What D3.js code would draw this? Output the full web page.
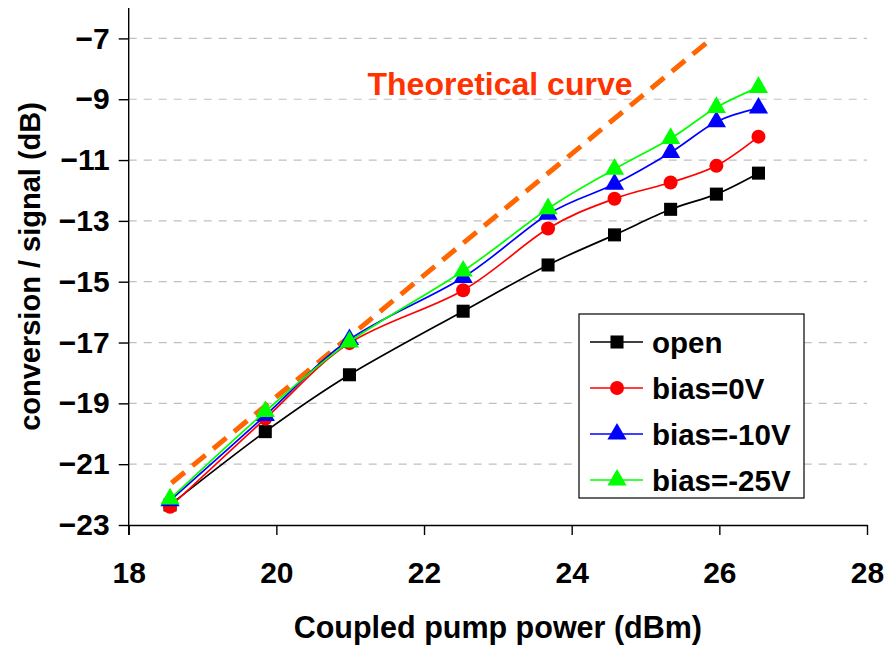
<!DOCTYPE html>
<html>
<head>
<meta charset="utf-8">
<script src="https://cdn.jsdelivr.net/npm/d3@7"></script>
<style>
  body { margin: 0; background: #fff; }
  text { font-family: Arial, "Liberation Sans", sans-serif; font-weight: bold; }
</style>
</head>
<body>
<div class="container"></div>
<script>
// pump power (dBm) for every measured point
var pump = [18.56, 19.85, 20.99, 22.53, 23.68, 24.58, 25.34, 25.96, 26.53];
var openV = [-22.34, -19.93, -18.06, -15.97, -14.45, -13.46, -12.62, -12.12, -11.43];
var bias0 = [-22.40, -19.50, -17.02, -15.28, -13.25, -12.27, -11.74, -11.19, -10.23];
var bias10 = [-22.20, -19.40, -16.90, -14.86, -12.78, -11.79, -10.75, -9.74, -9.29];
var bias25 = [-22.14, -19.27, -16.98, -14.65, -12.60, -11.30, -10.29, -9.27, -8.61];
var theoryX = [18.58, 25.90];
var theoryY = [-21.62, -7.00];
var xTicks = [18, 20, 22, 24, 26, 28];
var yTicks = [-23, -21, -19, -17, -15, -13, -11, -9, -7];

var series = [
  {name: 'open', vals: openV, color: '#000000', mark: 'square'},
  {name: 'bias=0V', vals: bias0, color: '#ff0000', mark: 'circle'},
  {name: 'bias=-10V', vals: bias10, color: '#0000ff', mark: 'triangle'},
  {name: 'bias=-25V', vals: bias25, color: '#00ff00', mark: 'triangle'}
];

var chart = function() {
  var W = 886, H = 645;
  var pLeft = 128.7, pRight = 867, pTop = 8, pBottom = 525;

  var svg = d3.select('.container').append('svg')
    .attr('width', W)
    .attr('height', H);

  var x = d3.scaleLinear().domain([18, 28]).range([pLeft, pRight]);
  var y = d3.scaleLinear().domain([-23, -6]).range([pBottom, pTop]);

  // dashed grid
  svg.append('g').selectAll('line')
    .data(yTicks.filter(function(d){ return d > -23; }))
    .enter().append('line')
    .attr('x1', pLeft).attr('x2', pRight)
    .attr('y1', function(d){ return y(d); })
    .attr('y2', function(d){ return y(d); })
    .attr('stroke', '#c0c0c0')
    .attr('stroke-width', 1.2)
    .attr('stroke-dasharray', '8,7');

  // axes
  var xAxis = svg.append('g')
    .attr('transform', 'translate(0,' + pBottom + ')')
    .call(d3.axisBottom(x).tickValues(xTicks).tickSize(10).tickSizeOuter(0).tickPadding(27));
  var yAxis = svg.append('g')
    .attr('transform', 'translate(' + pLeft + ',0)')
    .call(d3.axisLeft(y).tickValues(yTicks).tickSize(10).tickSizeOuter(0).tickPadding(9));
  [xAxis, yAxis].forEach(function(a){
    a.select('.domain').attr('stroke', '#000').attr('stroke-width', 1.4);
    a.selectAll('.tick line').attr('stroke', '#000').attr('stroke-width', 1.4);
    a.selectAll('.tick text').attr('fill', '#000').style('font-size', '30px')
      .style('font-family', 'Arial, "Liberation Sans", sans-serif').style('font-weight', 'bold');
  });
  xAxis.selectAll('.tick text').attr('dy', '0.71em');
  // y axis runs to the top of the plot
  yAxis.select('.domain').attr('d', 'M0,' + pTop + 'V' + (pBottom + 10));

  // theoretical curve
  svg.append('path')
    .datum(d3.zip(theoryX, theoryY))
    .attr('d', d3.line().x(function(d){ return x(d[0]); }).y(function(d){ return y(d[1]); }))
    .attr('fill', 'none')
    .attr('stroke', '#ff6600')
    .attr('stroke-width', 5)
    .attr('stroke-dasharray', '17,10');

  svg.append('text')
    .attr('x', 500).attr('y', 95)
    .attr('text-anchor', 'middle')
    .attr('fill', '#ff3300')
    .style('font-size', '32px')
    .text('Theoretical curve');

  var line = d3.line()
    .x(function(d){ return x(d[0]); })
    .y(function(d){ return y(d[1]); })
    .curve(d3.curveCardinal.tension(0));

  function drawMark(g, mark, color, cx, cy) {
    if (mark === 'circle') {
      g.append('circle').attr('cx', cx).attr('cy', cy).attr('r', 7).attr('fill', color);
    } else {
      var sym = mark === 'square' ? d3.symbolSquare : d3.symbolTriangle;
      var size = mark === 'square' ? 170 : 160;
      g.append('path')
        .attr('d', d3.symbol().type(sym).size(size)())
        .attr('transform', 'translate(' + cx + ',' + cy + ')')
        .attr('fill', color);
    }
  }

  series.forEach(function(s){
    var pts = d3.zip(pump, s.vals);
    var g = svg.append('g');
    g.append('path')
      .datum(pts)
      .attr('d', line)
      .attr('fill', 'none')
      .attr('stroke', s.color)
      .attr('stroke-width', 1.7);
    pts.forEach(function(p){
      drawMark(g, s.mark, s.color, x(p[0]), y(p[1]));
    });
  });

  // legend
  var lg = svg.append('g');
  lg.append('rect')
    .attr('x', 579).attr('y', 314).attr('width', 225).attr('height', 184)
    .attr('fill', '#fff').attr('stroke', '#000').attr('stroke-width', 1.2);
  series.forEach(function(s, i){
    var ly = 342 + i * 46;
    lg.append('line')
      .attr('x1', 590).attr('x2', 643).attr('y1', ly).attr('y2', ly)
      .attr('stroke', s.color).attr('stroke-width', 1.7);
    drawMark(lg, s.mark, s.color, 617, ly);
    lg.append('text')
      .attr('x', 652).attr('y', ly).attr('dy', '0.36em')
      .style('font-size', '29.5px')
      .attr('fill', '#000')
      .text(s.name);
  });

  // axis titles
  svg.append('text')
    .attr('x', (pLeft + pRight) / 2).attr('y', 638)
    .attr('text-anchor', 'middle')
    .style('font-size', '30.5px')
    .text('Coupled pump power (dBm)');

  svg.append('text')
    .attr('transform', 'translate(40,' + ((pTop + pBottom) / 2) + ') rotate(-90)')
    .attr('text-anchor', 'middle')
    .style('font-size', '29px')
    .text('conversion / signal (dB)');
};

chart();
</script>
</body>
</html>
